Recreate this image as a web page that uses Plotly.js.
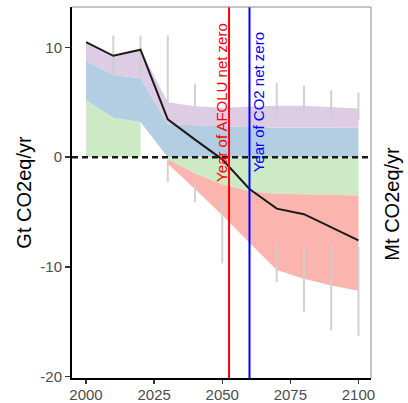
<!DOCTYPE html>
<html>
<head>
<meta charset="utf-8">
<script src="https://cdn.plot.ly/plotly-3.0.1.min.js"></script>
<style>html,body{margin:0;padding:0;background:#fff;}#chart{width:408px;height:403px;}</style>
</head>
<body>
<div id="chart"></div>
<script>
// ---- data ----
const years = [2000, 2010, 2020, 2030, 2040, 2050, 2060, 2070, 2080, 2090, 2100];

// positive stack (thickness of each layer, Gt CO2eq/yr)
const greenPos  = [5.2, 3.6, 3.2, null, null, null, null, null, null, null, null];
const bluePos   = [3.6, 3.9, 4.0, 3.0, 2.9, 2.8, 2.75, 2.7, 2.7, 2.7, 2.7];
const purplePos = [1.7, 1.75, 2.6, 2.0, 1.75, 1.7, 1.85, 2.0, 2.0, 1.9, 1.75];

// negative stack (thickness of each layer, below zero)
const greenNeg = [null, null, null, 0.2, 1.5, 2.5, 3.1, 3.35, 3.4, 3.45, 3.5];
const redNeg   = [null, null, null, 0.4, 1.4, 2.8, 4.7, 6.95, 7.7, 8.25, 8.7];

// net emissions line
const netLine = [10.5, 9.25, 9.8, 3.45, 1.6, -0.2, -2.9, -4.7, -5.2, -6.4, -7.6];

// ranges (grey bars)
const upperHi = [null, 11.1, 11.1, 11.1, 6.7, null, null, 6.8, 6.5, 6.1, 5.9];
const upperLo = [null, 7.5, 7.3, 5.0, 4.5, null, null, 3.5, 3.7, 3.5, 3.4];
const lowerHi = [null, null, null, -0.3, -2.4, -4.0, null, -8.0, -8.0, -8.0, -8.2];
const lowerLo = [null, null, null, -2.25, -4.1, -9.7, null, -11.4, -14.1, -15.8, -16.3];

const afoluNetZeroYear = 2052.5;
const co2NetZeroYear = 2060;

const yTicks = [-20, -10, 0, 10];
const xTicks = [2000, 2025, 2050, 2075, 2100];

// ---- build stacked polygons ----
function band(lower, upper, color) {
  const xs = [], up = [], lo = [];
  for (let i = 0; i < years.length; i++) {
    if (upper[i] === null || lower[i] === null) continue;
    xs.push(years[i]); up.push(upper[i]); lo.push(lower[i]);
  }
  return {
    x: xs.concat(xs.slice().reverse()),
    y: up.concat(lo.slice().reverse()),
    type: 'scatter', mode: 'lines', fill: 'toself',
    fillcolor: color, line: {width: 0, color: color},
    hoverinfo: 'skip', showlegend: false
  };
}
const n = years.length;
const gBase = greenPos.map(v => v === null ? null : 0);
const gTop = greenPos.map(v => v === null ? null : v);
const bBase = greenPos.map(v => v === null ? 0 : v);
const bTop = bBase.map((v, i) => v + bluePos[i]);
const pTop = bTop.map((v, i) => v + purplePos[i]);
const gnBase = greenNeg.map(v => v === null ? null : 0);
const gnBot = greenNeg.map(v => v === null ? null : -v);
const rBot = greenNeg.map((v, i) => v === null ? null : -(v + redNeg[i]));

const traces = [
  band(gBase, gTop, '#CCEBC5'),
  band(bBase, bTop, '#B3CDE3'),
  band(bTop, pTop, '#DECBE4'),
  band(gnBot, gnBase, '#CCEBC5'),
  band(rBot, gnBot, '#FBB4AE')
];

// grey range bars
const bx = [], by = [];
for (let i = 0; i < n; i++) {
  if (upperHi[i] !== null) { bx.push(years[i], years[i], null); by.push(upperHi[i], upperLo[i], null); }
  if (lowerHi[i] !== null) { bx.push(years[i], years[i], null); by.push(lowerHi[i], lowerLo[i], null); }
}
traces.push({x: bx, y: by, type: 'scatter', mode: 'lines', line: {color: 'rgba(205,205,205,0.9)', width: 2},
  connectgaps: false, hoverinfo: 'skip', showlegend: false});

// net line
traces.push({x: years, y: netLine, type: 'scatter', mode: 'lines',
  line: {color: '#1a1a1a', width: 2}, hoverinfo: 'skip', showlegend: false});

const layout = {
  width: 408, height: 403,
  margin: {l: 72, r: 37, t: 7, b: 25},
  paper_bgcolor: '#ffffff', plot_bgcolor: '#ffffff',
  showlegend: false,
  font: {family: 'Liberation Sans, Arial, sans-serif', color: '#000'},
  xaxis: {
    range: [1994.85, 2104.6], tickvals: xTicks, ticktext: xTicks.map(String),
    ticks: 'outside', ticklen: 4, tickwidth: 1.5, tickcolor: '#333',
    ticklabelstandoff: -2,
    showline: true, linecolor: '#000', linewidth: 2, showgrid: false, zeroline: false,
    tickfont: {size: 15, color: '#4d4d4d'}
  },
  yaxis: {
    range: [-20.15, 13.7], tickvals: yTicks, ticktext: yTicks.map(String),
    ticks: 'outside', ticklen: 5, tickwidth: 1.5, tickcolor: '#333',
    showline: true, linecolor: '#000', linewidth: 2, showgrid: false, zeroline: false,
    tickfont: {size: 15, color: '#4d4d4d'},
    title: {text: 'Gt CO2eq/yr', font: {size: 20, color: '#000'}, standoff: 3}
  },
  shapes: [
    {type: 'line', xref: 'paper', yref: 'y', x0: 0, x1: 1, y0: 0, y1: 0,
     line: {color: '#1a1a1a', width: 2.5, dash: '6px,4px'}},
    {type: 'line', xref: 'x', yref: 'paper', x0: afoluNetZeroYear, x1: afoluNetZeroYear, y0: 0, y1: 1,
     line: {color: '#ff0000', width: 2}},
    {type: 'line', xref: 'x', yref: 'paper', x0: co2NetZeroYear, x1: co2NetZeroYear, y0: 0, y1: 1,
     line: {color: '#0000ff', width: 2}},
    {type: 'line', xref: 'paper', yref: 'paper', x0: 0, x1: 1, y0: 1, y1: 1,
     line: {color: '#8c8c8c', width: 1}},
    {type: 'line', xref: 'paper', yref: 'paper', x0: 1, x1: 1, y0: 0, y1: 1,
     line: {color: '#8c8c8c', width: 1}}
  ],
  annotations: [
    {text: 'Year of AFOLU net zero', x: afoluNetZeroYear, y: 5, xref: 'x', yref: 'y',
     textangle: -90, xanchor: 'right', yanchor: 'middle', xshift: 3, showarrow: false,
     font: {size: 15, color: '#ff0000'}},
    {text: 'Year of CO2 net zero', x: co2NetZeroYear, y: 5, xref: 'x', yref: 'y',
     textangle: -90, xanchor: 'left', yanchor: 'middle', xshift: -2, showarrow: false,
     font: {size: 15, color: '#0000ff'}},
    {text: 'Mt CO2eq/yr', x: 1, y: 0.47, xref: 'paper', yref: 'paper',
     textangle: -90, xanchor: 'center', yanchor: 'middle', xshift: 21, showarrow: false,
     font: {size: 20, color: '#000'}}
  ]
};

Plotly.newPlot('chart', traces, layout, {displayModeBar: false, staticPlot: true});
</script>
</body>
</html>
